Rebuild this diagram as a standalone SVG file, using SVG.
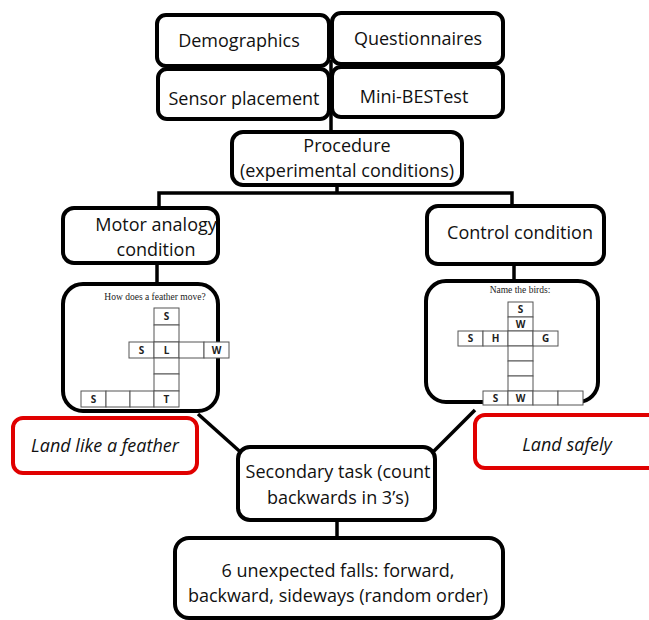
<svg xmlns="http://www.w3.org/2000/svg" width="649" height="620" viewBox="0 0 649 620">
<style>
.box{fill:#fff;stroke:#000;stroke-width:4}
.red{fill:#fff;stroke:#e00000;stroke-width:4}
.t{font-family:"Open Sans","Liberation Sans",sans-serif;font-size:18px;fill:#111;text-anchor:middle}
.it{font-style:italic}
.con{stroke:#000;stroke-width:3.5;fill:none}
.cell{fill:#fff;stroke:#555;stroke-width:1}
.q{font-family:"Liberation Serif",serif;font-size:9.5px;fill:#222;text-anchor:middle}
.g{font-family:"Open Sans","Liberation Sans",sans-serif;font-size:10px;font-weight:bold;fill:#222;text-anchor:middle}
</style>
<rect width="649" height="620" fill="#fff"/>
<g id="connectors">
<line class="con" x1="331" y1="60" x2="331" y2="134"/>
<line class="con" x1="337" y1="184" x2="337" y2="193"/>
<polyline class="con" points="159,208 159,193 512,193 512,206"/>
<line class="con" x1="157" y1="262" x2="157" y2="285"/>
<line class="con" x1="514" y1="264" x2="514" y2="282"/>
<line class="con" x1="198" y1="414" x2="246" y2="457"/>
<line class="con" x1="475" y1="410" x2="428" y2="457"/>
<line class="con" x1="337" y1="519" x2="337" y2="539"/>
</g>
<g id="demographics"><rect class="box" x="157" y="15" width="172" height="51" rx="9"/><text class="t" x="239" y="47">Demographics</text></g>
<g id="questionnaires"><rect class="box" x="332" y="13" width="171" height="51" rx="9"/><text class="t" x="418" y="45">Questionnaires</text></g>
<g id="sensor"><rect class="box" x="158" y="69" width="171" height="50" rx="9"/><text class="t" x="244" y="105">Sensor placement</text></g>
<g id="minibestest"><rect class="box" x="332" y="67" width="171" height="50" rx="9"/><text class="t" x="414" y="103">Mini-BESTest</text></g>
<g id="procedure"><rect class="box" x="232" y="132" width="230" height="53" rx="11"/><text class="t" x="347" y="152">Procedure</text><text class="t" x="347" y="177">(experimental conditions)</text></g>
<g id="motor"><rect class="box" x="63" y="208" width="155" height="55" rx="11"/><text class="t" x="156" y="231">Motor analogy</text><text class="t" x="156" y="256">condition</text></g>
<g id="control"><rect class="box" x="427" y="206" width="177" height="58" rx="11"/><text class="t" x="520" y="239">Control condition</text></g>
<g id="motor-image">
<rect class="box" x="63" y="284" width="155" height="127" rx="20"/>
<text class="q" x="155" y="300">How does a feather move?</text>
<rect class="cell" x="154" y="308" width="25" height="17"/>
<rect class="cell" x="154" y="325" width="25" height="17"/>
<rect class="cell" x="129" y="342" width="25" height="16"/>
<rect class="cell" x="154" y="342" width="25" height="16"/>
<rect class="cell" x="179" y="342" width="25" height="16"/>
<rect class="cell" x="204" y="342" width="25" height="16"/>
<rect class="cell" x="154" y="358" width="25" height="16"/>
<rect class="cell" x="154" y="374" width="25" height="17"/>
<rect class="cell" x="81" y="391" width="25" height="16"/>
<rect class="cell" x="106" y="391" width="24" height="16"/>
<rect class="cell" x="130" y="391" width="24" height="16"/>
<rect class="cell" x="154" y="391" width="25" height="16"/>
<text class="g" x="166.5" y="320">S</text>
<text class="g" x="141.5" y="354">S</text>
<text class="g" x="166.5" y="354">L</text>
<text class="g" x="216.5" y="354">W</text>
<text class="g" x="93.5" y="403">S</text>
<text class="g" x="166.5" y="403">T</text>
</g>
<g id="control-image">
<rect class="box" x="426" y="281" width="172" height="121" rx="20"/>
<text class="q" x="520" y="293">Name the birds:</text>
<rect class="cell" x="508" y="302" width="25" height="15"/>
<rect class="cell" x="508" y="317" width="25" height="14"/>
<rect class="cell" x="458" y="331" width="25" height="15"/>
<rect class="cell" x="483" y="331" width="25" height="15"/>
<rect class="cell" x="508" y="331" width="25" height="15"/>
<rect class="cell" x="533" y="331" width="25" height="15"/>
<rect class="cell" x="508" y="346" width="25" height="15"/>
<rect class="cell" x="508" y="361" width="25" height="15"/>
<rect class="cell" x="508" y="376" width="25" height="15"/>
<rect class="cell" x="483" y="391" width="25" height="14"/>
<rect class="cell" x="508" y="391" width="25" height="14"/>
<rect class="cell" x="533" y="391" width="25" height="14"/>
<rect class="cell" x="558" y="391" width="25" height="14"/>
<text class="g" x="520.5" y="313">S</text>
<text class="g" x="520.5" y="328">W</text>
<text class="g" x="470.5" y="342">S</text>
<text class="g" x="495.5" y="342">H</text>
<text class="g" x="545.5" y="342">G</text>
<text class="g" x="495.5" y="402">S</text>
<text class="g" x="520.5" y="402">W</text>
</g>
<g id="land-feather"><rect class="red" x="13" y="418" width="184" height="55" rx="10"/><text class="t it" x="105" y="452">Land like a feather</text></g>
<g id="land-safely"><rect class="red" x="475" y="415" width="190" height="53" rx="10"/><text class="t it" x="567" y="451">Land safely</text></g>
<g id="secondary"><rect class="box" x="238" y="447" width="197" height="73" rx="12"/><text class="t" x="338" y="478">Secondary task (count</text><text class="t" x="338" y="504">backwards in 3’s)</text></g>
<g id="falls"><rect class="box" x="175" y="538" width="328" height="80" rx="14"/><text class="t" x="338" y="577">6 unexpected falls: forward,</text><text class="t" x="338" y="602">backward, sideways (random order)</text></g>
</svg>
